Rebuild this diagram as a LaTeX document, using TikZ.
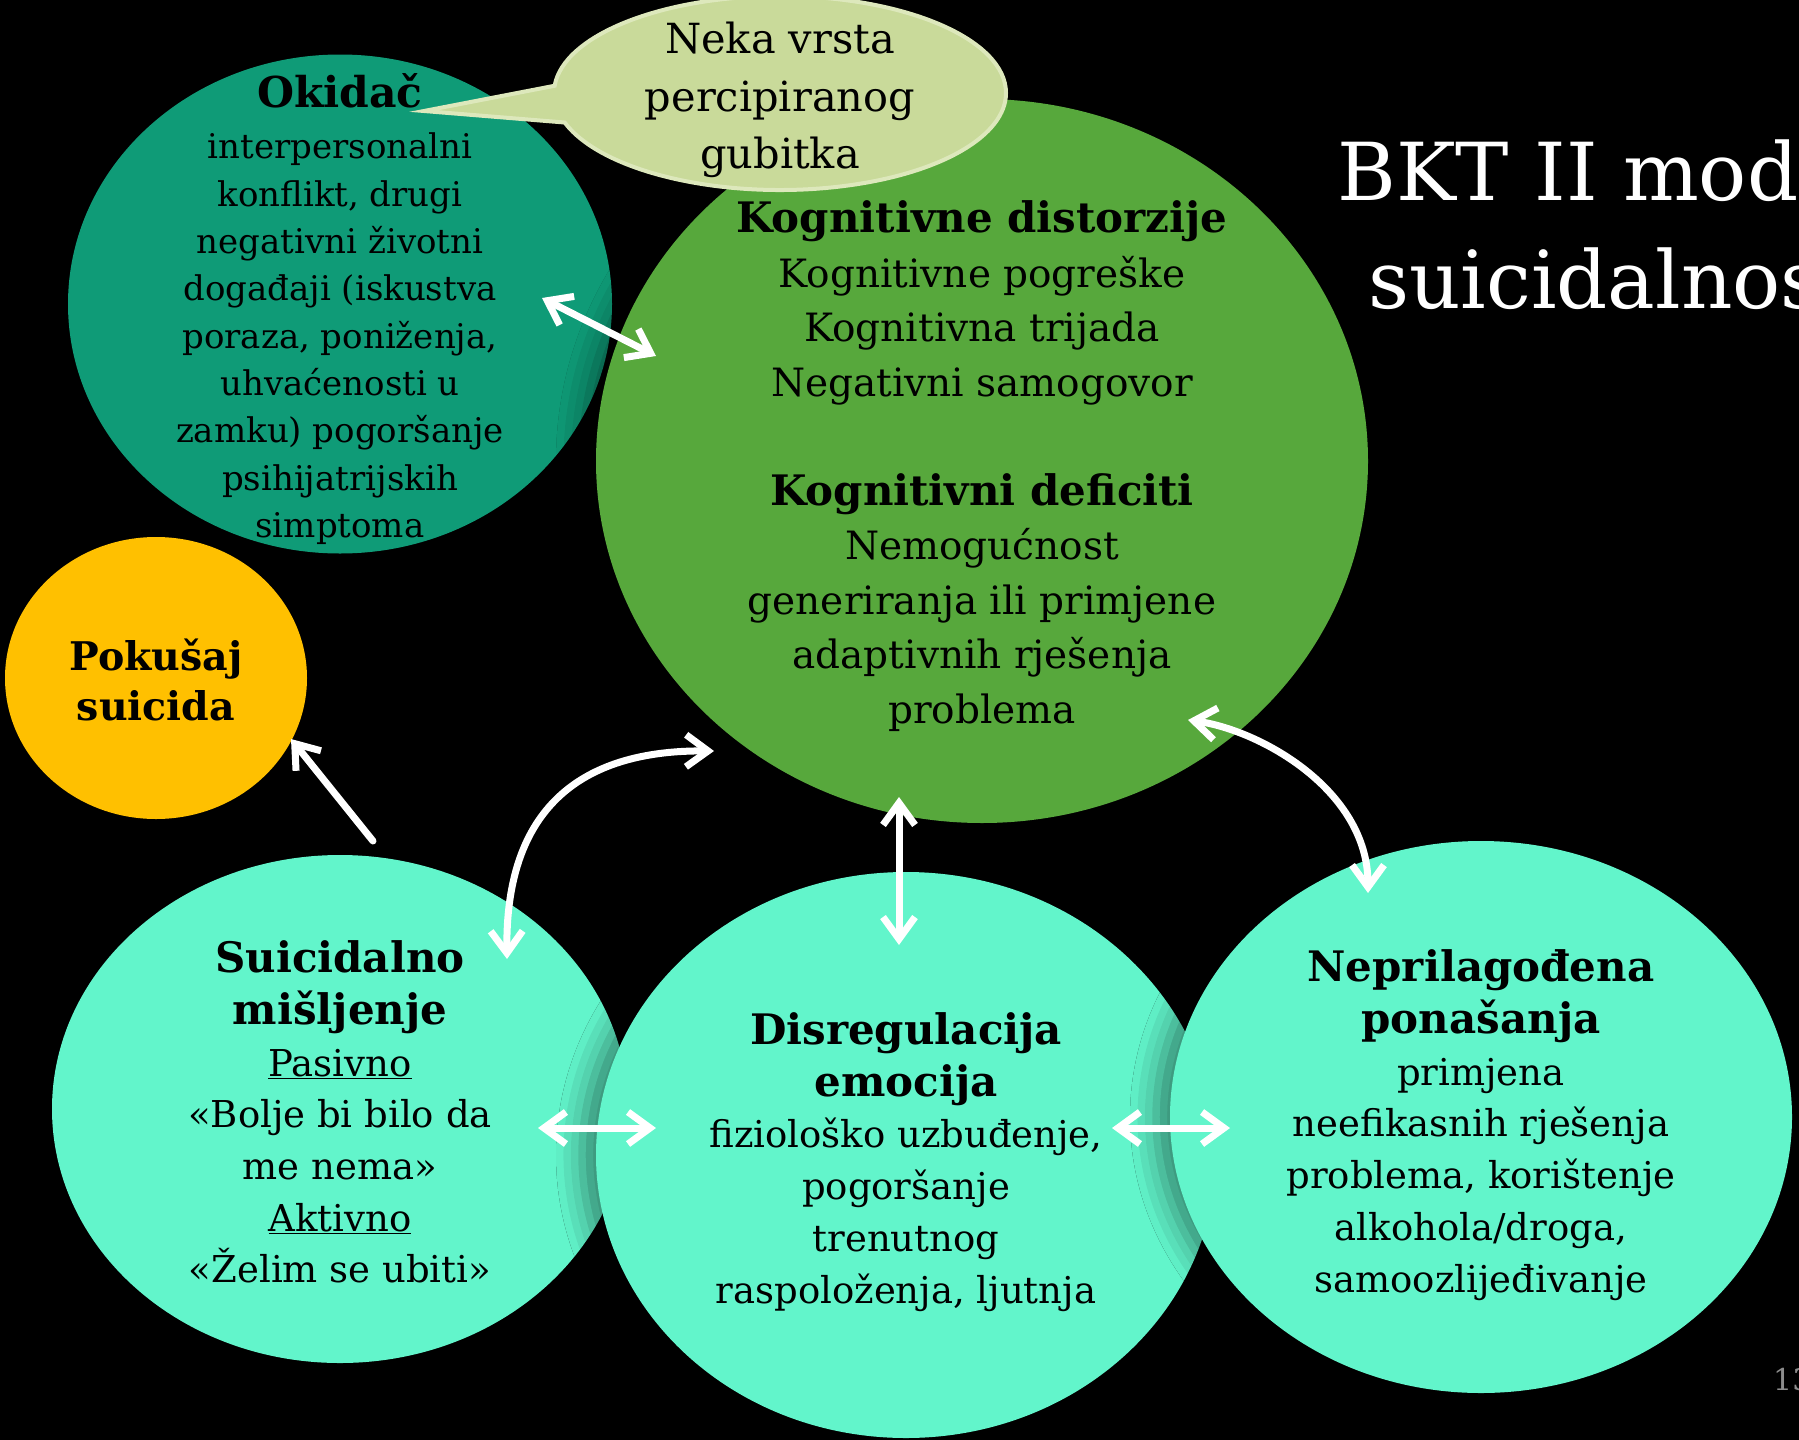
\documentclass[tikz,border=0pt]{standalone}
\usepackage{fontspec}
\setmainfont{DejaVu Serif}
\usetikzlibrary{shapes.geometric,shapes.callouts,arrows.meta,calc,shadows.blur}
\definecolor{cOki}{HTML}{0F9B77}
\definecolor{cGreen}{HTML}{57A83C}
\definecolor{cBub}{HTML}{C9DA9A}
\definecolor{cBubLine}{HTML}{DDE8BC}
\definecolor{cYel}{HTML}{FFC000}
\definecolor{cMint}{HTML}{62F5CB}
\definecolor{cNum}{HTML}{8C8C8C}
\newcommand{\hd}[1]{{\fontsize{42}{50}\selectfont\bfseries #1}}
\tikzset{
  blob/.style={ellipse, inner sep=0pt, outer sep=0pt, draw=none},
  shad/.style={blur shadow={shadow xshift=-14pt, shadow yshift=0pt, shadow blur radius=26pt, shadow opacity=45}},
  txt/.style={align=center, inner sep=0pt, text=black},
  arr/.style={draw=white, line width=7pt, line cap=round},
  dbl/.style={arr, {Straight Barb[length=22pt,width=32pt]}-{Straight Barb[length=22pt,width=32pt]}},
  sgl/.style={arr, -{Straight Barb[length=22pt,width=32pt]}}
}
\begin{document}
\begin{tikzpicture}[x=1pt,y=-1pt]
\fill[black] (0,0) rectangle (1799,1440);
\useasboundingbox (0,0) rectangle (1799,1440);
\clip (0,0) rectangle (1799,1440);

% shapes
\node[blob, fill=cOki, minimum width=544pt, minimum height=499pt] (okidac) at (340,304) {};
\node[blob, fill=cGreen, shad, minimum width=772pt, minimum height=724pt] (green) at (982,461) {};
\node[ellipse callout, callout absolute pointer={(424,111)}, callout pointer arc=22,
      minimum width=452pt, minimum height=194pt, inner sep=0pt,
      fill=cBub, draw=cBubLine, line width=4pt] (bubble) at (780,93) {};
\node[blob, fill=cYel, minimum width=302pt, minimum height=282pt] (pokusaj) at (156,678) {};
\node[blob, fill=cMint, minimum width=576pt, minimum height=508pt] (suic) at (340,1109) {};
\node[blob, fill=cMint, shad, minimum width=620pt, minimum height=566pt] (disreg) at (906,1155) {};
\node[blob, fill=cMint, shad, minimum width=622pt, minimum height=552pt] (neprilag) at (1481,1117) {};

% texts
\node[txt, font=\fontsize{34}{47.3}\selectfont] (okidacT) at ([yshift=-5pt]okidac.center)
  {{\fontsize{42.5}{47.3}\selectfont\bfseries Okidač}\\[4pt]interpersonalni\\konflikt, drugi\\negativni životni\\događaji (iskustva\\poraza, poniženja,\\uhvaćenosti u\\zamku) pogoršanje\\psihijatrijskih\\simptoma};
\node[txt, font=\fontsize{41.5}{57.5}\selectfont] (bubbleT) at ([yshift=-7pt]bubble.center)
  {Neka vrsta\\percipiranog\\gubitka};
\node[txt, font=\fontsize{39}{54.5}\selectfont] (greenT) at ([yshift=-5pt]green.center)
  {\hd{Kognitivne distorzije}\\Kognitivne pogreške\\Kognitivna trijada\\Negativni samogovor\\[54.5pt]\hd{Kognitivni deficiti}\\Nemogućnost\\generiranja ili primjene\\adaptivnih rješenja\\problema};
\node[txt, font=\fontsize{39.5}{50}\selectfont\bfseries] (pokusajT) at ([yshift=-2pt]pokusaj.center)
  {Pokušaj\\suicida};
\node[txt, font=\fontsize{37}{51.7}\selectfont] (suicT) at ([yshift=-3pt]suic.center)
  {\hd{Suicidalno}\\\hd{mišljenje}\\\underline{Pasivno}\\«Bolje bi bilo da\\me nema»\\\underline{Aktivno}\\«Želim se ubiti»};
\node[txt, font=\fontsize{37}{51.8}\selectfont] (disregT) at ([yshift=-7pt]disreg.center)
  {\hd{Disregulacija}\\\hd{emocija}\\fiziološko uzbuđenje,\\pogoršanje\\trenutnog\\raspoloženja, ljutnja};
\node[txt, font=\fontsize{37}{51.8}\selectfont] (neprilagT) at ([yshift=-8pt]neprilag.center)
  {\hd{Neprilagođena}\\\hd{ponašanja}\\primjena\\neefikasnih rješenja\\problema, korištenje\\alkohola/droga,\\samoozlijeđivanje};

% title and page number
\node[anchor=base west, inner sep=0pt, text=white, font=\fontsize{80}{90}\selectfont] (title1) at (1337,200) {BKT II mod};
\node[anchor=base west, inner sep=0pt, text=white, font=\fontsize{80}{90}\selectfont] (title2) at (1368,308) {suicidalnos};
\node[anchor=base west, inner sep=0pt, text=cNum, font=\fontsize{30}{36}\selectfont] (pagenum) at (1773,1390) {13};

% arrows
\draw[dbl] ($(okidac.center)+(202,-6)$) -- ($(green.center)+(-326,-105)$);
\draw[sgl] ($(suic.center)+(33,-268)$) -- ($(pokusaj.center)+(135,61)$);
\draw[dbl] ($(suic.center)+(167,-150)$) .. controls ($(suic.center)+(165,-309)$) and ($(green.center)+(-392,289)$) .. ($(green.center)+(-268,290)$);
\draw[dbl] ($(green.center)+(-83,336)$) -- ($(disreg.center)+(-7,-210)$);
\draw[dbl] ($(green.center)+(206,259)$) .. controls ($(green.center)+(278,269)$) and ($(neprilag.center)+(-113,-327)$) .. ($(neprilag.center)+(-113,-224)$);
\draw[dbl] ($(suic.center)+(198,19)$) -- ($(disreg.center)+(-250,-27)$);
\draw[dbl] ($(disreg.center)+(206,-27)$) -- ($(neprilag.center)+(-251,11)$);
\end{tikzpicture}
\end{document}
